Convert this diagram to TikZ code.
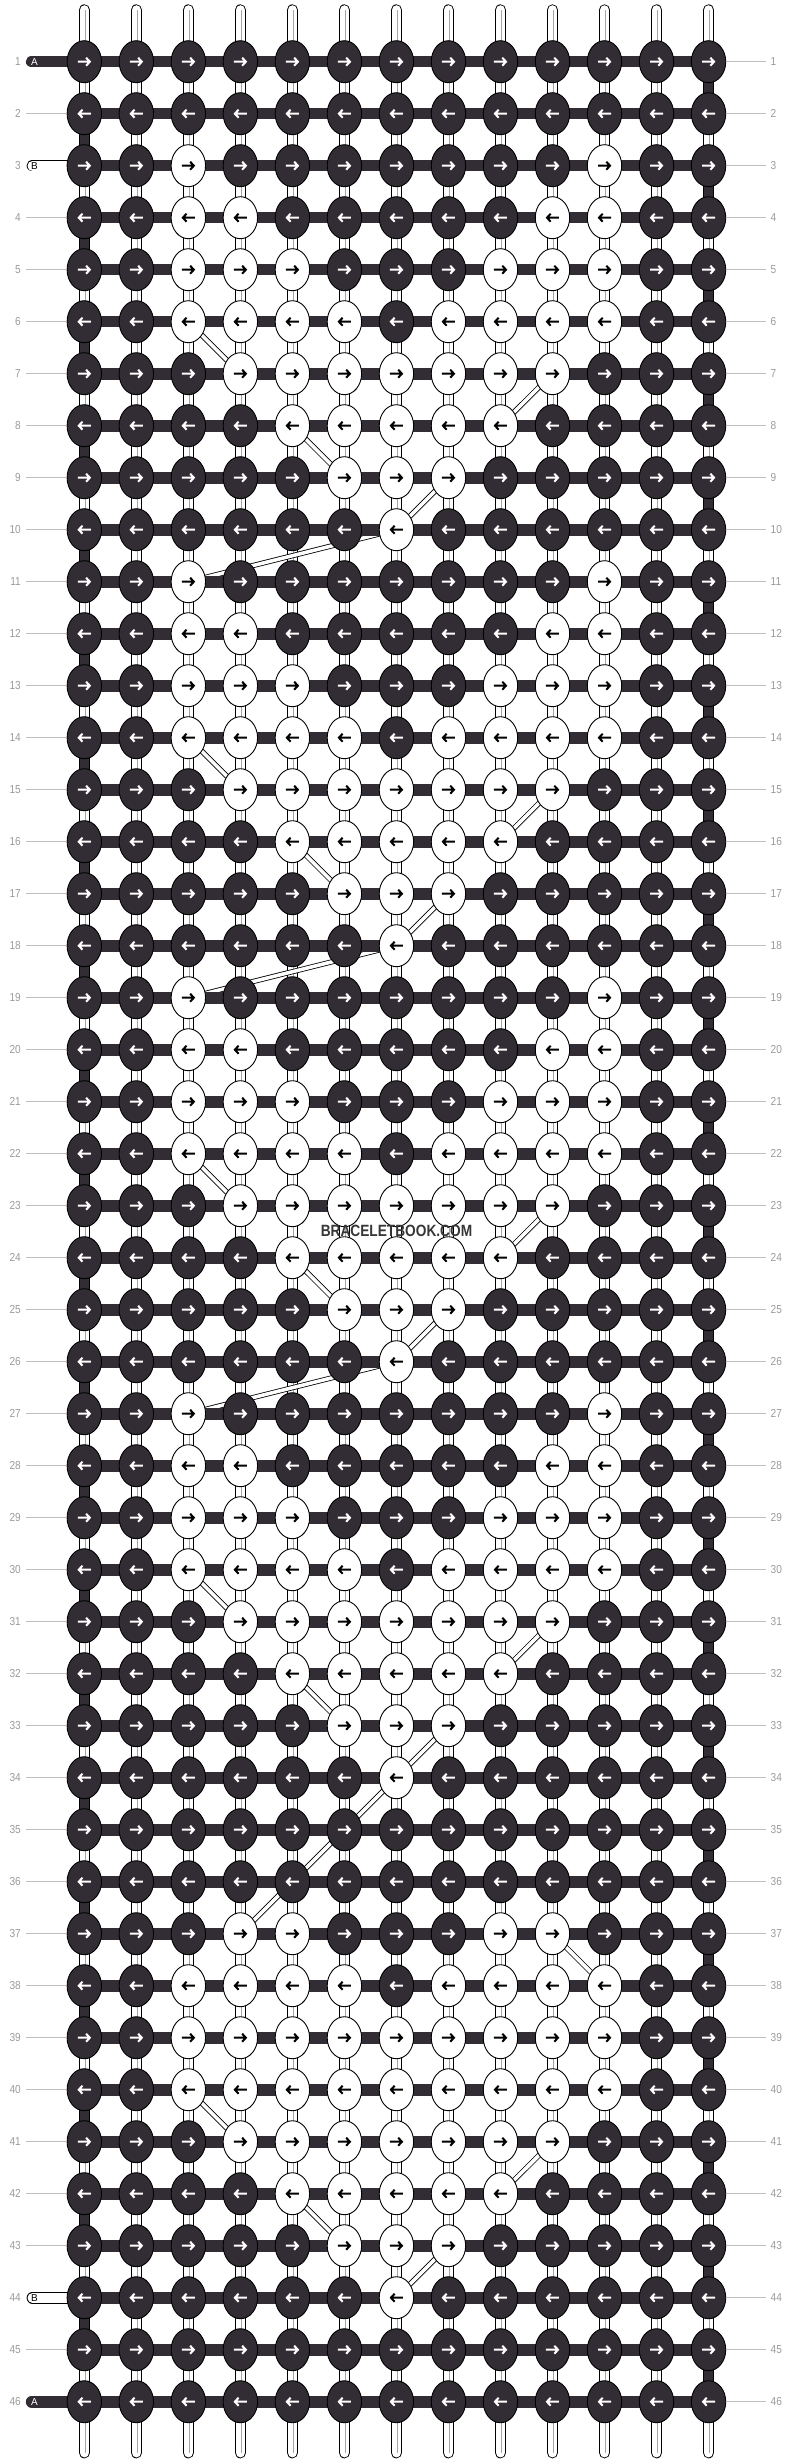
\documentclass[tikz,border=0pt]{standalone}
\usepackage{fontspec}
\setmainfont{Liberation Sans}
\newfontfamily\labfont[FakeStretch=0.87]{Liberation Sans}
\newfontfamily\wmfont[FakeStretch=0.84]{Liberation Sans}
\usetikzlibrary{shapes.geometric}
\definecolor{kdark}{RGB}{50,45,52}
\definecolor{labgray}{RGB}{155,155,155}
\definecolor{lngray}{RGB}{190,190,190}
\definecolor{strgray}{RGB}{165,165,165}
\definecolor{wmgray}{RGB}{55,55,55}
\pgfdeclarelayer{paper}
\pgfdeclarelayer{strings}
\pgfdeclarelayer{ribbons}
\pgfdeclarelayer{threads}
\pgfsetlayers{paper,strings,ribbons,threads,main}
\tikzset{
  knotD/.style={ellipse, draw=black, line width=0.9pt, fill=kdark, minimum width=34.4pt, minimum height=42pt, inner sep=0pt, outer sep=0pt},
  knotW/.style={knotD, fill=white},
  arr/.style={line width=2pt, line cap=butt, line join=miter},
  thread/.style={kdark, line width=11.6pt},
  strand/.style={draw=black, line width=0.9pt, double=white, double distance=9.5pt, line cap=round},
  strandline/.style={strgray, line width=0.9pt},
  turnseg/.style={draw=black, line width=0.9pt, double=kdark, double distance=9.5pt},
  ribbon/.style={draw=black, line width=0.8pt, double=white, double distance=3.6pt},
  gline/.style={lngray, line width=1pt},
  rowlab/.style={labgray, inner sep=0pt, font=\labfont\fontsize{11.6}{12}\selectfont, text height=8.3pt, text depth=0pt},
  marktext/.style={inner sep=0pt, font=\fontsize{10}{10}\selectfont, text height=7.2pt, text depth=0pt},
  wmark/.style={wmgray, inner sep=0pt, font=\wmfont\bfseries\fontsize{16.3}{17}\selectfont, text height=11.7pt, text depth=0pt},
}
\begin{document}
\begin{tikzpicture}[x=1pt,y=-1pt]
\begin{pgfonlayer}{paper}
  \fill[white] (0,0) rectangle (792,2464);
\end{pgfonlayer}
\useasboundingbox (0,0) rectangle (792,2464);
% white (B) knots
\foreach \off in {0,8,16,24}{
  \foreach \rr/\cs in {3/{3,11},4/{3,4,10,11},5/{3,4,5,9,10,11},6/{3,4,5,6,8,9,10,11},7/{4,5,6,7,8,9,10},8/{5,6,7,8,9},9/{6,7,8},10/{7}}{
    \pgfmathtruncatemacro\rw{\rr+\off}
    \foreach \cw in \cs {\expandafter\gdef\csname w-\rw-\cw\endcsname{1}}
  }
}
\foreach \rw/\cs in {37/{4,5,9,10},38/{3,4,5,6,8,9,10,11},39/{3,4,5,6,7,8,9,10,11},40/{3,4,5,6,7,8,9,10,11},41/{4,5,6,7,8,9,10},42/{5,6,7,8,9},43/{6,7,8},44/{7}}{
  \foreach \cw in \cs {\expandafter\gdef\csname w-\rw-\cw\endcsname{1}}
}
% knots and arrows
\foreach \r in {1,...,46}{
  \pgfmathsetmacro\y{61.7+52*(\r-1)}
  \foreach \c in {1,...,13}{
    \pgfmathsetmacro\x{84.3+52.02*(\c-1)}
    \ifcsname w-\r-\c\endcsname
      \node[knotW] (k\r-\c) at (\x,\y) {};
      \def\acol{black}
    \else
      \node[knotD] (k\r-\c) at (\x,\y) {};
      \def\acol{white}
    \fi
    \ifodd\r\relax
      \draw[arr,draw=\acol] (\x-6.5,\y) -- (\x+5.5,\y) (\x+1.8,\y-4) -- (\x+5.5,\y) -- (\x+1.8,\y+4);
    \else
      \draw[arr,draw=\acol] (\x+6.5,\y) -- (\x-5.5,\y) (\x-1.8,\y-4) -- (\x-5.5,\y) -- (\x-1.8,\y+4);
    \fi
  }
}
% vertical strings
\begin{pgfonlayer}{strings}
  \foreach \c in {1,...,13}{
    \pgfmathsetmacro\x{84.3+52.02*(\c-1)}
    \coordinate (top\c) at (\x,10);
    \coordinate (bot\c) at (\x,2452.7);
    \draw[strand] (top\c) -- (bot\c);
    \draw[strandline] ([xshift=1pt]top\c) -- ([xshift=1pt]bot\c);
  }
  \foreach \r in {1,3,...,45}{
    \pgfmathtruncatemacro\rn{\r+1}
    \draw[turnseg] (k\r-13.center) -- (k\rn-13.center);
  }
  \foreach \r in {2,4,...,44}{
    \pgfmathtruncatemacro\rn{\r+1}
    \draw[turnseg] (k\r-1.center) -- (k\rn-1.center);
  }
\end{pgfonlayer}
% carried B string
\begin{pgfonlayer}{ribbons}
  \foreach \ra/\ca/\rb/\cb in {6/3/7/4, 7/10/8/9, 8/5/9/6, 9/8/10/7, 10/7/11/3,
     14/3/15/4, 15/10/16/9, 16/5/17/6, 17/8/18/7, 18/7/19/3,
     22/3/23/4, 23/10/24/9, 24/5/25/6, 25/8/26/7, 26/7/27/3,
     30/3/31/4, 31/10/32/9, 32/5/33/6, 33/8/34/7, 34/7/37/4,
     37/10/38/11, 40/3/41/4, 41/10/42/9, 42/5/43/6, 43/8/44/7}{
    \draw[ribbon] (k\ra-\ca.center) -- (k\rb-\cb.center);
  }
\end{pgfonlayer}
% horizontal working threads
\begin{pgfonlayer}{threads}
  \foreach \r in {1,...,46}{
    \draw[thread] (k\r-1.center) -- (k\r-13.center);
  }
  \coordinate (mA1) at (31.6,61.7);
  \coordinate (mA46) at (31.6,2401.7);
  \draw[thread, line cap=round] (mA1) -- (k1-1.center);
  \draw[thread, line cap=round] (mA46) -- (k46-1.center);
  \coordinate (mB3) at (32.4,165.7);
  \coordinate (mB44) at (32.4,2297.7);
  \draw[draw=black, line width=0.9pt, double=white, double distance=9.8pt, line cap=round] (mB3) -- (k3-1.center);
  \draw[draw=black, line width=0.9pt, double=white, double distance=9.8pt, line cap=round] (mB44) -- (k44-1.center);
\end{pgfonlayer}
\node[marktext, white] (tA1) at (34.5,61.7) {A};
\node[marktext, white] (tA46) at (34.5,2401.7) {A};
\node[marktext] (tB3) at (34.5,165.7) {B};
\node[marktext] (tB44) at (34.5,2297.7) {B};
% row labels and guide lines
\foreach \r in {1,...,46}{
  \pgfmathsetmacro\y{61.7+52*(\r-1)}
  \node[rowlab, anchor=east] (ll\r) at (21,\y) {\r};
  \node[rowlab, anchor=west] (lr\r) at (770.5,\y) {\r};
  \coordinate (gr\r) at (766,\y);
  \draw[gline] (k\r-13) -- (gr\r);
}
\foreach \r in {2,45,4,5,6,7,8,9,10,11,12,13,14,15,16,17,18,19,20,21,22,23,24,25,26,27,28,29,30,31,32,33,34,35,36,37,38,39,40,41,42,43}{
  \pgfmathsetmacro\y{61.7+52*(\r-1)}
  \coordinate (gl\r) at (26,\y);
  \draw[gline] (gl\r) -- (k\r-1);
}
\node[wmark] (wm) at (396.5,1231) {BRACELETBOOK.COM};
\end{tikzpicture}
\end{document}
